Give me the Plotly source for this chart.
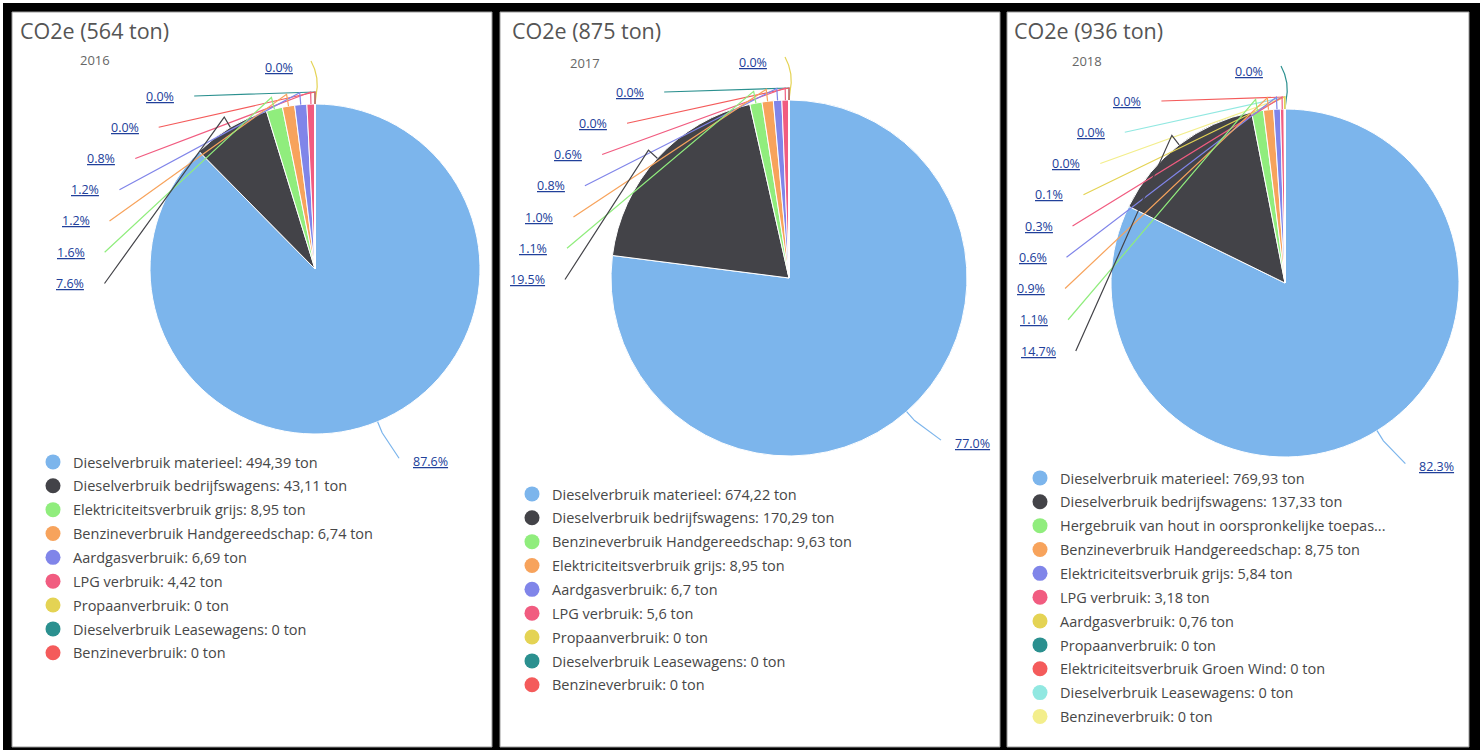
import math
import plotly.graph_objects as go

W, H = 1480, 750

# ---------------- data ----------------
years = ["2016", "2017", "2018"]
totals = [564, 875, 936]

cats_2016 = ["Dieselverbruik materieel", "Dieselverbruik bedrijfswagens",
             "Elektriciteitsverbruik grijs", "Benzineverbruik Handgereedschap",
             "Aardgasverbruik", "LPG verbruik", "Propaanverbruik",
             "Dieselverbruik Leasewagens", "Benzineverbruik"]
vals_2016 = [494.39, 43.11, 8.95, 6.74, 6.69, 4.42, 0, 0, 0]

cats_2017 = ["Dieselverbruik materieel", "Dieselverbruik bedrijfswagens",
             "Benzineverbruik Handgereedschap", "Elektriciteitsverbruik grijs",
             "Aardgasverbruik", "LPG verbruik", "Propaanverbruik",
             "Dieselverbruik Leasewagens", "Benzineverbruik"]
vals_2017 = [674.22, 170.29, 9.63, 8.95, 6.7, 5.6, 0, 0, 0]

cats_2018 = ["Dieselverbruik materieel", "Dieselverbruik bedrijfswagens",
             "Hergebruik van hout in oorspronkelijke toepassing",
             "Benzineverbruik Handgereedschap", "Elektriciteitsverbruik grijs",
             "LPG verbruik", "Aardgasverbruik", "Propaanverbruik",
             "Elektriciteitsverbruik Groen Wind", "Dieselverbruik Leasewagens",
             "Benzineverbruik"]
vals_2018 = [769.93, 137.33, 10.21, 8.75, 5.84, 3.18, 0.76, 0, 0, 0, 0]

colors = ["#7cb5ec", "#434348", "#90ed7d", "#f7a35c", "#8085e9", "#f15c80",
          "#e4d354", "#2b908f", "#f45b5b", "#91e8e1", "#f3ee8c"]

datasets = [(cats_2016, vals_2016), (cats_2017, vals_2017), (cats_2018, vals_2018)]

# ---------------- layout (pixels) ----------------
panels = [
    dict(x0=12, x1=492, cx=315, cy=269, r=165, tx=18, sx=95, sy=60, lx=53, ly=462),
    dict(x0=500, x1=1000, cx=789, cy=278, r=178, tx=510, sx=585, sy=63, lx=532, ly=494),
    dict(x0=1007, x1=1469, cx=1285, cy=283, r=174, tx=1012, sx=1087, sy=61, lx=1040, ly=478),
]
PANEL_TOP, PANEL_BOTTOM = 12, 747
LABEL_DIST = 46
BREAK = 12
STEP = 31.25
LABEL_COLOR = "#21409a"
FONT = "Open Sans"


def px(x):
    return x / W


def py(y):
    return 1 - y / H


def fmt(v):
    return ("%g" % v).replace(".", ",")


def legend_text(cat, v):
    t = "%s: %s ton" % (cat, fmt(v))
    if len(t) > 48:
        t = t[:45] + "..."
    return t


fig = go.Figure()
shapes = []
annotations = []

# frame
shapes.append(dict(type="rect", xref="paper", yref="paper", x0=px(3), x1=px(1480),
                   y0=py(750), y1=py(3), fillcolor="#000000", line_width=0, layer="below"))
for p in panels:
    shapes.append(dict(type="rect", xref="paper", yref="paper", x0=px(p["x0"]), x1=px(p["x1"]),
                       y0=py(PANEL_BOTTOM), y1=py(PANEL_TOP), fillcolor="#ffffff",
                       line=dict(color="#9a9a9a", width=1), layer="below"))

for k, ((cats, vals), p) in enumerate(zip(datasets, panels)):
    cx, cy, r = p["cx"], p["cy"], p["r"]
    total = sum(vals)
    fig.add_trace(go.Pie(
        labels=cats, values=vals, sort=False, direction="clockwise", rotation=0,
        marker=dict(colors=colors[:len(vals)], line=dict(color="#ffffff", width=1)),
        textinfo="none", showlegend=False,
        domain=dict(x=[px(cx - r), px(cx + r)], y=[py(cy + r), py(cy - r)]),
        hovertemplate="%{label}: %{value} ton<extra></extra>",
    ))
    # legend entries (circle markers)
    lg = "legend" if k == 0 else "legend%d" % (k + 1)
    for i, (c, v) in enumerate(zip(cats, vals)):
        fig.add_trace(go.Scatter(
            x=[None], y=[None], mode="markers", name=legend_text(c, v),
            marker=dict(color=colors[i], size=15, symbol="circle"),
            legend=lg, legendgroup="g%d_%d" % (k, i), showlegend=True,
        ))

    # angles
    cum = 0.0
    mids = []
    for v in vals:
        a = 2 * math.pi * (cum + v / 2.0) / total
        mids.append(a)
        cum += v

    def pt(a, rad):
        return cx + rad * math.sin(a), cy - rad * math.cos(a)

    rl = r + LABEL_DIST
    top = cy - r
    zeros = [i for i, v in enumerate(vals) if v == 0]
    nonzero = [i for i, v in enumerate(vals) if v != 0 and i != 0]
    top_idx = zeros[0]
    stack = zeros[1:] + nonzero[::-1]

    def pct(i):
        return "<u>%.1f%%</u>" % (100.0 * vals[i] / total)

    lfont = dict(size=12.5, color=LABEL_COLOR, family=FONT)

    # top label
    ty = top - 37
    annotations.append(dict(x=px(cx - 20), y=py(ty), xref="paper", yref="paper", text=pct(top_idx),
                            showarrow=False, xanchor="right", yanchor="middle", font=lfont))
    path = "M %f,%f Q %f,%f %f,%f L %f,%f" % (
        px(cx - 4), py(ty - 6), px(cx + 5), py(ty + 10), px(cx + 1), py(top - 8), px(cx), py(top))
    shapes.append(dict(type="path", xref="paper", yref="paper", path=path,
                       line=dict(color=colors[top_idx], width=1.2)))

    # left stacked labels
    for j, i in enumerate(stack):
        y = top - 8 + j * STEP
        dy = y - cy
        xs = cx - math.sqrt(max(rl * rl - dy * dy, 0))
        annotations.append(dict(x=px(xs - 18), y=py(y), xref="paper", yref="paper", text=pct(i),
                                showarrow=False, xanchor="right", yanchor="middle", font=lfont))
        bx, by = pt(mids[i], r + BREAK)
        ex, ey = pt(mids[i], r)
        path = "M %f,%f L %f,%f L %f,%f" % (px(xs), py(y), px(bx), py(by), px(ex), py(ey))
        shapes.append(dict(type="path", xref="paper", yref="paper", path=path,
                           line=dict(color=colors[i], width=1.2)))

    # main slice label (right side)
    lx_, ly_ = pt(mids[0], rl)
    annotations.append(dict(x=px(lx_ + 16), y=py(ly_ - 3), xref="paper", yref="paper", text=pct(0),
                            showarrow=False, xanchor="left", yanchor="middle", font=lfont))
    bx, by = pt(mids[0], r + BREAK)
    ex, ey = pt(mids[0], r)
    path = "M %f,%f L %f,%f L %f,%f" % (px(ex), py(ey), px(bx), py(by), px(lx_ + 4), py(ly_ - 6))
    shapes.append(dict(type="path", xref="paper", yref="paper", path=path,
                       line=dict(color=colors[0], width=1.2)))

    # title and subtitle
    annotations.append(dict(x=px(p["tx"]), y=py(30), xref="paper", yref="paper",
                            text="CO2e (%d ton)" % totals[k], showarrow=False,
                            xanchor="left", yanchor="middle",
                            font=dict(size=21.5, color="#555555", family=FONT)))
    annotations.append(dict(x=px(p["sx"]), y=py(p["sy"]), xref="paper", yref="paper",
                            text=years[k], showarrow=False, xanchor="center", yanchor="middle",
                            font=dict(size=13, color="#666666", family=FONT)))

legend_common = dict(bgcolor="rgba(0,0,0,0)", font=dict(size=14.5, color="#474747", family=FONT),
                     tracegroupgap=2, xanchor="left", yanchor="top", itemclick=False,
                     itemdoubleclick=False)
legends = {}
for k, p in enumerate(panels):
    key = "legend" if k == 0 else "legend%d" % (k + 1)
    legends[key] = dict(legend_common, x=px(p["lx"] - 20), y=py(p["ly"] - 16))

fig.update_layout(
    width=W, height=H, margin=dict(l=0, r=0, t=0, b=0),
    paper_bgcolor="#ffffff", plot_bgcolor="rgba(0,0,0,0)",
    xaxis=dict(visible=False), yaxis=dict(visible=False),
    shapes=shapes, annotations=annotations, font=dict(family=FONT),
    **legends,
)

fig.write_html("out.html", config={"displayModeBar": False},
               post_script="document.body.style.margin='0';")
